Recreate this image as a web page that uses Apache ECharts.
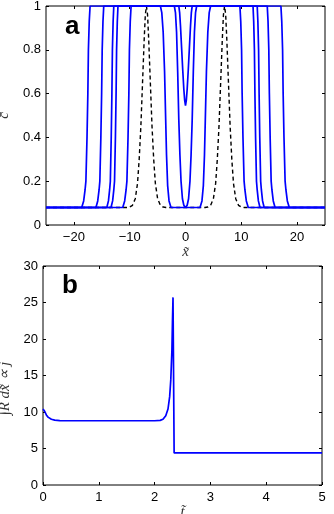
<!DOCTYPE html>
<html>
<head>
<meta charset="utf-8">
<script src="https://cdn.jsdelivr.net/npm/echarts@6/dist/echarts.min.js"></script>
<style>
  html, body { margin: 0; padding: 0; background: #fff; }
  #chart { width: 334px; height: 514px; }
</style>
</head>
<body>
<div id="chart"></div>
<script>
  // panel a: concentration profiles c(x) at several times, [x, c]
  var profile1 = [[-25,0.08],[-11.25,0.08],[-10.9,0.11],[-10.65,0.16],[-10.5,0.2],[-10.3,0.4],[-10.15,0.6],[-10.05,0.8],[-9.9,0.93],[-9.75,1],
    [-4.5,1],[-4.25,0.97],[-4.0,0.88],[-3.75,0.7],[-3.55,0.48],[-3.4,0.32],[-3.2,0.18],[-2.95,0.11],[-2.6,0.08],
    [2.6,0.08],[2.95,0.11],[3.2,0.18],[3.4,0.32],[3.55,0.48],[3.75,0.7],[4.0,0.88],[4.25,0.97],[4.5,1],
    [9.75,1],[9.9,0.93],[10.05,0.8],[10.15,0.6],[10.3,0.4],[10.5,0.2],[10.65,0.16],[10.9,0.11],[11.25,0.08],[25,0.08]];
  var profile2 = [[-25,0.08],[-13.35,0.08],[-13.06,0.11],[-12.85,0.16],[-12.72,0.2],[-12.56,0.4],[-12.44,0.6],[-12.35,0.8],[-12.22,0.93],[-12.1,1],
    [-2.0,1],[-1.8,0.97],[-1.6,0.88],[-1.4,0.7],[-1.2,0.48],[-1.0,0.32],[-0.8,0.2],[-0.55,0.12],[-0.3,0.09],[0,0.08],
    [0.3,0.09],[0.55,0.12],[0.8,0.2],[1.0,0.32],[1.2,0.48],[1.4,0.7],[1.6,0.88],[1.8,0.97],[2.0,1],
    [12.1,1],[12.22,0.93],[12.35,0.8],[12.44,0.6],[12.56,0.4],[12.72,0.2],[12.85,0.16],[13.06,0.11],[13.35,0.08],[25,0.08]];
  var profile3 = [[-25,0.08],[-14.1,0.08],[-13.81,0.11],[-13.6,0.16],[-13.47,0.2],[-13.31,0.4],[-13.19,0.6],[-13.1,0.8],[-12.97,0.93],[-12.85,1],
    [-1.2,1],[-1.05,0.97],[-0.9,0.91],[-0.7,0.81],[-0.5,0.71],[-0.3,0.62],[-0.15,0.57],[0,0.545],
    [0.15,0.57],[0.3,0.62],[0.5,0.71],[0.7,0.81],[0.9,0.91],[1.05,0.97],[1.2,1],
    [12.85,1],[12.97,0.93],[13.1,0.8],[13.19,0.6],[13.31,0.4],[13.47,0.2],[13.6,0.16],[13.81,0.11],[14.1,0.08],[25,0.08]];
  var profile4 = [[-25,0.08],[-16.05,0.08],[-15.73,0.11],[-15.49,0.16],[-15.35,0.2],[-15.17,0.4],[-15.03,0.6],[-14.93,0.8],[-14.79,0.93],[-14.65,1],
    [14.65,1],[14.79,0.93],[14.93,0.8],[15.03,0.6],[15.17,0.4],[15.35,0.2],[15.49,0.16],[15.73,0.11],[16.05,0.08],[25,0.08]];
  var profile5 = [[-25,0.08],[-18.6,0.08],[-18.25,0.11],[-18.0,0.16],[-17.85,0.2],[-17.65,0.4],[-17.5,0.6],[-17.4,0.8],[-17.25,0.93],[-17.1,1],
    [17.1,1],[17.25,0.93],[17.4,0.8],[17.5,0.6],[17.65,0.4],[17.85,0.2],[18.0,0.16],[18.25,0.11],[18.6,0.08],[25,0.08]];
  // initial condition (dashed)
  var initial = [[-25,0.08],[-10.5,0.08],[-10,0.082],[-9.5,0.09],[-9,0.12],[-8.6,0.19],[-8.3,0.3],[-8.0,0.45],[-7.7,0.65],[-7.4,0.85],[-7.2,0.96],[-7.0,1],
    [-6.8,0.96],[-6.6,0.85],[-6.3,0.65],[-6.0,0.45],[-5.7,0.3],[-5.4,0.19],[-5.0,0.12],[-4.5,0.09],[-4,0.082],[-3.5,0.08],
    [3.5,0.08],[4,0.082],[4.5,0.09],[5.0,0.12],[5.4,0.19],[5.7,0.3],[6.0,0.45],[6.3,0.65],[6.6,0.85],[6.8,0.96],[7.0,1],
    [7.2,0.96],[7.4,0.85],[7.7,0.65],[8.0,0.45],[8.3,0.3],[8.6,0.19],[9,0.12],[9.5,0.09],[10,0.082],[10.5,0.08],[25,0.08]];

  // panel b: integrated reaction rate vs time
  var tVals = [0, 0.015, 0.03, 0.06, 0.09, 0.15, 0.21, 0.3, 0.5, 1.0, 1.5, 2.0, 2.1, 2.15, 2.2, 2.24, 2.27, 2.29, 2.31, 2.32, 2.33, 2.35, 2.5, 5];
  var jVals = [10.4, 10.6, 10.1, 9.6, 9.3, 9.0, 8.88, 8.82, 8.8, 8.8, 8.8, 8.8, 8.85, 9.0, 9.5, 10.4, 12.1, 14.4, 18.4, 22.4, 25.7, 4.4, 4.4, 4.4];

  var xRangeA = [-25, 25];
  var xTicksA = [-20, -10, 0, 10, 20];
  var yTicksA = [0, 1, 0.2];
  var xTicksB = [0, 5, 1];
  var yTicksB = [0, 30, 5];

  var chart = echarts.init(document.getElementById('chart'));

  var lblStyle = { color: '#000', fontSize: 13, fontFamily: 'Liberation Sans' };
  var nameStyle = { color: '#333', fontSize: 15, fontFamily: 'Liberation Serif', fontStyle: 'italic' };
  var tick = { inside: true, length: 3, lineStyle: { color: '#000' } };
  var noLine = { show: false, onZero: false };

  function fmt(v) { return String(v).replace('-', '\u2212'); }

  function xAxisA(pos, labels) {
    return {
      type: 'value', gridIndex: 0, min: xRangeA[0], max: xRangeA[1], position: pos,
      name: labels ? 'x\u0303' : '', nameLocation: 'middle', nameGap: 17, nameTextStyle: nameStyle,
      axisLine: noLine, splitLine: { show: false },
      axisTick: Object.assign({ customValues: xTicksA }, tick),
      axisLabel: Object.assign({ show: labels, margin: 6, customValues: xTicksA, formatter: fmt }, lblStyle)
    };
  }
  function axisStd(grid, t, pos, labels, name, gap, pad) {
    return {
      type: 'value', gridIndex: grid, min: t[0], max: t[1], interval: t[2], position: pos,
      name: labels ? name : '', nameLocation: 'middle', nameGap: gap,
      nameTextStyle: Object.assign({ padding: pad || 0 }, nameStyle),
      axisLine: noLine, splitLine: { show: false },
      axisTick: tick,
      axisLabel: Object.assign({ show: labels, margin: pos === 'bottom' ? 6 : 5 }, lblStyle)
    };
  }

  function blue(data) {
    return { type: 'line', xAxisIndex: 0, yAxisIndex: 0, data: data, showSymbol: false,
      lineStyle: { color: '#0000ff', width: 1.7 }, silent: true, z: 3 };
  }

  chart.setOption({
    animation: false,
    title: [
      { text: 'a', left: 60, top: 9, textStyle: { fontSize: 26, fontWeight: 'bold', color: '#000', fontFamily: 'Liberation Sans' } },
      { text: 'b', left: 57, top: 268, textStyle: { fontSize: 26, fontWeight: 'bold', color: '#000', fontFamily: 'Liberation Sans' } }
    ],
    grid: [
      { left: 46, right: 9, top: 6, height: 219, show: true, borderColor: '#000', borderWidth: 1, outerBoundsMode: 'none' },
      { left: 43, right: 12, top: 266, height: 219, show: true, borderColor: '#000', borderWidth: 1, outerBoundsMode: 'none' }
    ],
    xAxis: [
      xAxisA('bottom', true),
      xAxisA('top', false),
      axisStd(1, xTicksB, 'bottom', true, 't\u0303', 15),
      axisStd(1, xTicksB, 'top', false, '', 0)
    ],
    yAxis: [
      axisStd(0, yTicksA, 'left', true, 'c\u0304', 27),
      axisStd(0, yTicksA, 'right', false, '', 0),
      axisStd(1, yTicksB, 'left', true, '\u222BR dx\u0303 \u221D j', 20, [0, 26, 0, 0]),
      axisStd(1, yTicksB, 'right', false, '', 0)
    ],
    series: [
      { type: 'line', xAxisIndex: 0, yAxisIndex: 0, data: initial, showSymbol: false, silent: true, z: 2,
        lineStyle: { color: '#000', width: 1.4, type: [4, 3] } },
      blue(profile1), blue(profile2), blue(profile3), blue(profile4), blue(profile5),
      { type: 'line', xAxisIndex: 2, yAxisIndex: 2, showSymbol: false, silent: true,
        data: tVals.map(function (t, i) { return [t, jVals[i]]; }),
        lineStyle: { color: '#0000ff', width: 1.7 } }
    ]
  });
</script>
</body>
</html>
